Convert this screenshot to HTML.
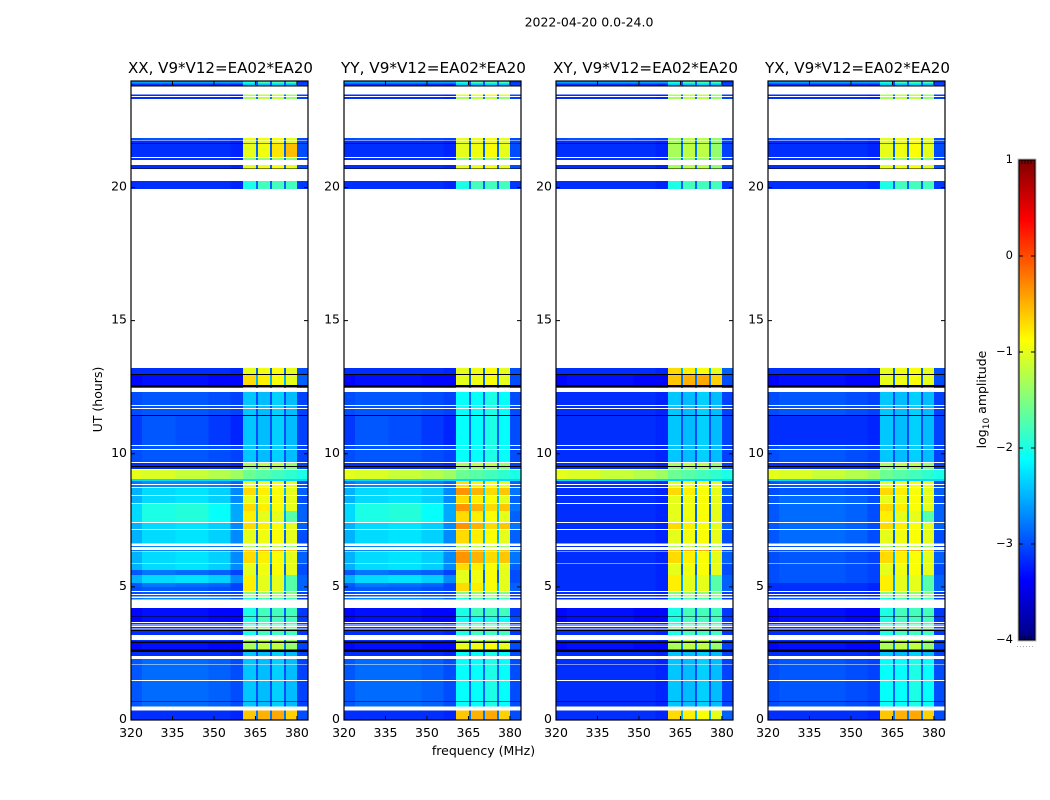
<!DOCTYPE html>
<html>
<head>
<meta charset="utf-8">
<title>2022-04-20 0.0-24.0</title>
<style>
html,body{margin:0;padding:0;background:#fff;}
svg{display:block;}
text{font-family:"DejaVu Sans","Liberation Sans",sans-serif;fill:#000;}
</style>
</head>
<body>
<svg id="chart" width="1050" height="800" viewBox="0 0 1050 800" xmlns="http://www.w3.org/2000/svg">
  <text x="589" y="26.5" font-size="12.5" text-anchor="middle">2022-04-20 0.0-24.0</text>
  <text x="483.5" y="755" font-size="12.5" text-anchor="middle">frequency (MHz)</text>
  <text x="102" y="399.5" font-size="12.5" text-anchor="middle" transform="rotate(-90 102 399.5)">UT (hours)</text>
  <g id="panels"></g>
  <g id="colorbar"></g>
</svg>
<script>
// Panel titles
const panelTitles = ['XX, V9*V12=EA02*EA20', 'YY, V9*V12=EA02*EA20', 'XY, V9*V12=EA02*EA20', 'YX, V9*V12=EA02*EA20'];
// Tick labels
const freqTicks = [320, 335, 350, 365, 380];
const utTicks = [0, 5, 10, 15, 20];
const cbarTicks = [1, 0, -1, -2, -3, -4];
// Frequency channel edges (MHz)
const freqEdges = [320, 324, 336, 348, 356, 360.5, 365.2, 366, 370.3, 371, 375.3, 376, 380, 384];
// Log10 amplitude spectra, low-frequency section (5 channels)
const lowSpectra = {
  a: [-3.15, -3.15, -3.15, -3.15, -3.2],
  b: [-3.35, -3.3, -3.3, -3.35, -3.35],
  c: [-3.0, -2.95, -2.95, -3.0, -3.05],
  d: [-2.95, -2.85, -2.85, -2.9, -3.0],
  e: [-2.6, -2.6, -2.6, -2.6, -2.6],
  f: [-1.0, -1.05, -1.15, -1.25, -1.35],
  g: [-2.3, -2.3, -2.3, -2.3, -2.3],
  h: [-2.8, -2.7, -2.7, -2.75, -2.9],
  i: [-2.5, -2.3, -2.25, -2.35, -2.7],
  j: [-2.3, -2.0, -1.95, -2.1, -2.55],
  k: [-2.95, -2.8, -2.85, -2.9, -3.05],
  n: [-3.1, -2.95, -3.0, -3.1, -3.2],
  z: [-9, -9, -9, -9, -9]
};
// Log10 amplitude spectra, high-frequency section (8 channels)
const highSpectra = {
  A: [-2.0, -2.9, -1.8, -2.9, -1.8, -2.9, -1.8, -3.1],
  B: [-2.4, -3.0, -2.45, -3.0, -2.35, -3.0, -2.45, -3.05],
  C: [-1.0, -2.9, -0.95, -2.9, -0.9, -2.9, -1.0, -3.0],
  D: [-0.6, -2.8, -0.5, -2.8, -0.45, -2.8, -0.65, -3.0],
  E: [-0.7, -2.5, -0.8, -2.5, -0.9, -2.5, -1.0, -2.9],
  F: [-0.35, -2.3, -0.5, -2.3, -0.7, -2.3, -0.6, -2.8],
  G: [-1.3, -2.8, -1.2, -2.8, -1.2, -2.8, -1.4, -3.05],
  H: [-1.6, -1.7, -1.7, -1.75, -1.8, -1.85, -1.9, -2.0],
  I: [-2.3, -2.3, -2.3, -2.3, -2.3, -2.3, -2.3, -2.3],
  J: [-2.1, -2.9, -2.1, -2.9, -2.0, -2.9, -2.1, -3.0],
  K: [-1.5, -2.8, -1.4, -2.8, -1.4, -2.8, -1.5, -3.05],
  L: [-0.8, -2.6, -1.0, -2.6, -1.0, -2.6, -1.7, -2.9],
  M: [-1.0, -2.9, -0.95, -2.9, -0.75, -2.9, -0.55, -3.0],
  z: [-9, -9, -9, -9, -9, -9, -9, -9]
};
// Time ranges of data blocks (UT hours); anything else is flagged and left white
const bandStartUT = [23.91,23.84,23.80,23.43,23.32,21.79,21.66,21.63,21.14,21.03,20.72,20.69,19.94,13.00,12.96,12.58,12.51,12.47,11.83,11.72,11.46,11.42,10.33,10.18,9.69,9.54,9.51,9.43,9.06,8.98,8.87,8.75,8.45,8.15,7.85,7.44,7.18,6.62,6.50,6.35,5.90,5.64,5.45,5.15,5.00,4.85,4.74,4.63,4.52,3.91,3.88,3.69,3.61,3.54,3.43,3.35,3.20,2.94,2.90,2.64,2.56,2.41,2.11,1.51,0.72,0.69,0.50,0.00];
const bandEndUT = [24.00,23.91,23.84,23.50,23.39,21.85,21.77,21.66,21.63,21.10,20.84,20.72,20.24,13.22,13.00,12.96,12.58,12.51,12.32,11.79,11.68,11.46,11.42,10.29,10.14,9.66,9.54,9.51,9.39,9.06,8.98,8.83,8.72,8.42,8.12,7.85,7.40,7.14,6.54,6.39,6.32,5.87,5.64,5.45,5.15,5.00,4.81,4.70,4.59,4.21,3.91,3.88,3.65,3.58,3.50,3.39,3.35,3.01,2.94,2.90,2.64,2.56,2.30,2.08,1.46,0.72,0.69,0.35];
// Spectrum letter per band: 4 low-frequency (XX YY XY YX) then 4 high-frequency (XX YY XY YX)
const bandSpectra = [
 'eeeeAAAA','aaaaBBBB','zzzzzzzz','aaaaGCGG','aaaaGGGG','ccccCCGC','aaaaCCGC','zzzzzzzz','aaaaMCGC','aaaaKKKK',
 'aaaaCCGC','zzzzzzzz','aaaaAAAA','aaaaCCEC','zzzzzzzz','bbbbECDC','zzzzzzzz','ccccBBBB','ccacBJBB','ccacBJBB',
 'ccacBJBB','zzzzzzzz','nnaaBJBB','ccacBJBB','ccacBJBB','aaaaGGGG','zzzzzzzz','aaaaKKKK','ffffHHHH','ggggIIII',
 'hhacCECC','hhacCECC','iiacEFEE','iiadCECC','jjadEFCE','jjadLECL','iiadEFEE','iiadCECC','hhacGGGG','hhacDFDD',
 'iiacEFEE','iiacCECC','kkacCCCC','iiacLCLL','kkaaLELL','ccaaLELL','ccaaKKKK','ccaaGGGG','hhacAAAA','bbbbAAAA',
 'zzzzzzzz','bbbbAJAA','aaaaAAAA','aaaaAAAA','aaaaKKKK','zzzzzzzz','aaaaAAAA','aaaaGGGG','zzzzzzzz','bbbbGCGG',
 'zzzzzzzz','aaaaBJBB','ddacBJBJ','ddacBJBJ','ddacBJBJ','zzzzzzzz','ddacBJBJ','aaaaDDED'
];
</script>
<script>
const SVGNS = 'http://www.w3.org/2000/svg';
const panelLefts = [131, 344, 556, 768];
const panelWidth = 177, plotTop = 81, plotBottom = 720;
const freqMin = 320, freqMax = 384, utMin = 0, utMax = 24;
const cbarMin = -4, cbarMax = 1;
const cbarX = 1019, cbarW = 16, cbarTop = 160, cbarBottom = 640;

function xScale(f, p) { return panelLefts[p] + (f - freqMin) / (freqMax - freqMin) * panelWidth; }
function yScale(u) { return plotBottom - (u - utMin) / (utMax - utMin) * (plotBottom - plotTop); }
function cbarScale(v) { return cbarBottom - (v - cbarMin) / (cbarMax - cbarMin) * (cbarBottom - cbarTop); }
function clamp01(t) { return Math.max(0, Math.min(1, t)); }
function jetColor(v) {
  if (v < cbarMin) return '#000';
  const t = clamp01((v - cbarMin) / (cbarMax - cbarMin));
  const r = clamp01(Math.min(4 * t - 1.5, -4 * t + 4.5));
  const g = clamp01(Math.min(4 * t - 0.5, -4 * t + 3.5));
  const b = clamp01(Math.min(4 * t + 0.5, -4 * t + 2.5));
  return 'rgb(' + Math.round(r * 255) + ',' + Math.round(g * 255) + ',' + Math.round(b * 255) + ')';
}
function make(tag, attrs, parent) {
  const el = document.createElementNS(SVGNS, tag);
  for (const k in attrs) el.setAttribute(k, attrs[k]);
  parent.appendChild(el);
  return el;
}

const panelsRoot = document.getElementById('panels');
panelTitles.forEach(function (title, p) {
  const g = make('g', {}, panelsRoot);
  
  

  bandSpectra.forEach(function (code, b) {
    const low = lowSpectra[code[p]];
    const high = highSpectra[code[p + 4]];
    const values = low.concat(high);
    const yTop = yScale(bandEndUT[b]);
    const yBot = yScale(bandStartUT[b]);
    values.forEach(function (v, c) {
      const x0 = xScale(freqEdges[c], p);
      const x1 = xScale(freqEdges[c + 1], p);
      const cell = make('rect', { x: x0, y: yTop, width: x1 - x0, height: yBot - yTop, fill: jetColor(v), 'shape-rendering': 'crispEdges' }, g);
      
      
    });
  });

  const frame = make('rect', { x: panelLefts[p], y: plotTop, width: panelWidth, height: plotBottom - plotTop, fill: 'none', stroke: '#000', 'stroke-width': 1.2 }, g);
  
  

  const t = make('text', { x: panelLefts[p] + panelWidth / 2 + 1, y: 73, 'font-size': 15, 'text-anchor': 'middle', textLength: 185, lengthAdjust: 'spacingAndGlyphs' }, g);
  t.textContent = title;
  
  

  freqTicks.forEach(function (f) {
    const x = xScale(f, p);
    const tb = make('line', { x1: x, x2: x, y1: plotBottom, y2: plotBottom - 4, stroke: '#000', 'stroke-width': 1 }, g);
    
    
    const tt = make('line', { x1: x, x2: x, y1: plotTop, y2: plotTop + 4, stroke: '#000', 'stroke-width': 1 }, g);
    
    
    const lab = make('text', { x: x, y: 737, 'font-size': 12.5, 'text-anchor': 'middle' }, g);
    lab.textContent = String(f);
    
    
  });
  utTicks.forEach(function (u) {
    const y = yScale(u);
    const tl = make('line', { x1: panelLefts[p], x2: panelLefts[p] + 4, y1: y, y2: y, stroke: '#000', 'stroke-width': 1 }, g);
    
    
    const tr = make('line', { x1: panelLefts[p] + panelWidth, x2: panelLefts[p] + panelWidth - 4, y1: y, y2: y, stroke: '#000', 'stroke-width': 1 }, g);
    
    
    const lab = make('text', { x: panelLefts[p] - 4, y: y + 3, 'font-size': 12.5, 'text-anchor': 'end' }, g);
    lab.textContent = String(u);
    
    
  });
});

// Colorbar
const cb = document.getElementById('colorbar');
const defs = make('defs', {}, cb);
const grad = make('linearGradient', { id: 'jetGrad', x1: 0, y1: 1, x2: 0, y2: 0 }, defs);
for (let i = 0; i <= 40; i++) {
  const v = cbarMin + (cbarMax - cbarMin) * i / 40;
  make('stop', { offset: (i / 40), 'stop-color': jetColor(v) }, grad);
}
const bar = make('rect', { x: cbarX, y: cbarTop, width: cbarW, height: cbarBottom - cbarTop, fill: 'url(#jetGrad)', stroke: '#000', 'stroke-width': 1 }, cb);


const halo = make('rect', { x: cbarX - 1, y: cbarTop - 1, width: cbarW + 2, height: cbarBottom - cbarTop + 2, fill: 'none', stroke: '#bbb', 'stroke-width': 1 }, cb);


cbarTicks.forEach(function (v) {
  const y = cbarScale(v);
  const a = make('line', { x1: cbarX, x2: cbarX + 4, y1: y, y2: y, stroke: '#000', 'stroke-width': 1 }, cb);
  
  
  const b = make('line', { x1: cbarX + cbarW, x2: cbarX + cbarW - 4, y1: y, y2: y, stroke: '#000', 'stroke-width': 1 }, cb);
  
  
  const lab = make('text', { x: cbarX - 6, y: y + 3, 'font-size': 11.5, 'text-anchor': 'end' }, cb);
  lab.textContent = String(v).replace('-', '\u2212');
  
  
});
[3, 6, 9, 12].forEach(function (dx) {
  const t1 = make('line', { x1: cbarX + dx, x2: cbarX + dx, y1: cbarTop, y2: cbarTop + 4, stroke: '#000', 'stroke-width': 0.8 }, cb);
  
  
  const t2 = make('line', { x1: cbarX + dx, x2: cbarX + dx, y1: cbarBottom, y2: cbarBottom - 4, stroke: '#000', 'stroke-width': 0.8 }, cb);
  
  
});
for (let dx = -2; dx <= 15; dx += 3) {
  const dot = make('rect', { x: cbarX + dx, y: 646, width: 1, height: 1, fill: '#aaa' }, cb);
  
  
}
const cbLabel = make('text', { x: 986, y: 399.5, 'font-size': 12.5, 'text-anchor': 'middle', transform: 'rotate(-90 986 399.5)' }, cb);


cbLabel.appendChild(document.createTextNode('log'));
const sub = make('tspan', { 'font-size': 9, dy: 3 }, cbLabel);
sub.textContent = '10';
const rest = make('tspan', { dy: -3 }, cbLabel);
rest.textContent = ' amplitude';
</script>
</body>
</html>
